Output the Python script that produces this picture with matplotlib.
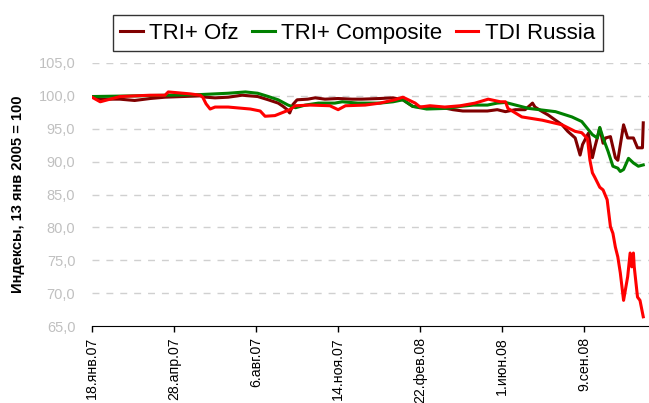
import matplotlib
matplotlib.use("Agg")
import matplotlib.pyplot as plt
import pandas as pd

plt.rcParams['font.family'] = ['Liberation Sans', 'DejaVu Sans']

# TRI+ Ofz
ofz_dates = ["2007-01-18", "2007-01-28", "2007-02-21", "2007-03-11", "2007-03-30", "2007-04-17",
             "2007-05-30", "2007-06-06", "2007-06-17", "2007-07-03", "2007-07-20", "2007-08-08",
             "2007-08-21", "2007-09-02", "2007-09-08", "2007-09-13", "2007-09-16", "2007-09-20",
             "2007-09-25", "2007-10-08", "2007-10-17", "2007-10-29", "2007-11-14", "2007-12-01",
             "2007-12-13", "2008-01-04", "2008-01-20", "2008-02-01", "2008-02-13", "2008-03-01",
             "2008-03-21", "2008-04-02", "2008-04-14", "2008-05-02", "2008-05-14", "2008-05-26",
             "2008-06-05", "2008-06-17", "2008-06-29", "2008-07-08", "2008-07-11", "2008-07-20",
             "2008-07-27", "2008-08-05", "2008-08-13", "2008-08-20", "2008-08-29", "2008-09-04",
             "2008-09-07", "2008-09-14", "2008-09-19", "2008-09-22", "2008-09-28", "2008-10-02",
             "2008-10-05", "2008-10-11", "2008-10-17", "2008-10-20", "2008-10-27", "2008-11-01",
             "2008-11-08", "2008-11-13", "2008-11-19", "2008-11-20"]
ofz = [99.9, 99.5, 99.5, 99.3, 99.6, 99.8,
       100.0, 99.8, 99.7, 99.8, 100.1, 99.9,
       99.4, 98.9, 98.4, 97.9, 97.4, 98.7,
       99.4, 99.5, 99.7, 99.5, 99.6, 99.5,
       99.5, 99.6, 99.7, 99.4, 98.4, 98.2,
       98.2, 97.9, 97.7, 97.7, 97.7, 97.9,
       97.6, 97.9, 97.9, 98.9, 98.3, 97.6,
       97.1, 96.3, 95.6, 94.6, 93.6, 91.0,
       92.6, 94.3, 90.6, 92.2, 95.1, 92.8,
       93.6, 93.8, 90.6, 90.2, 95.6, 93.6,
       93.6, 92.1, 92.1, 95.9]

# TRI+ Composite
comp_dates = ["2007-01-18", "2007-03-11", "2007-05-30", "2007-07-03", "2007-07-24", "2007-08-08",
              "2007-08-21", "2007-09-02", "2007-09-14", "2007-09-23", "2007-10-05", "2007-10-21",
              "2007-11-10", "2007-11-19", "2007-12-08", "2008-01-04", "2008-01-20", "2008-02-01",
              "2008-02-13", "2008-03-01", "2008-03-26", "2008-04-11", "2008-04-27", "2008-05-14",
              "2008-05-26", "2008-06-05", "2008-07-03", "2008-08-05", "2008-08-25", "2008-09-06",
              "2008-09-19", "2008-09-25", "2008-09-28", "2008-10-02", "2008-10-08", "2008-10-14",
              "2008-10-20", "2008-10-23", "2008-10-27", "2008-11-02", "2008-11-08", "2008-11-14",
              "2008-11-20"]
comp = [99.9, 100.0, 100.2, 100.4, 100.6, 100.4,
        99.9, 99.4, 98.6, 98.2, 98.6, 98.9,
        98.9, 99.1, 98.9, 98.9, 99.1, 99.4,
        98.4, 98.0, 98.1, 98.4, 98.6, 98.6,
        98.9, 99.0, 98.1, 97.6, 96.8, 96.1,
        94.1, 93.6, 95.2, 93.6, 91.6, 89.3,
        89.0, 88.5, 88.8, 90.5, 89.8, 89.3,
        89.5]

# TDI Russia
tdi_dates = ["2007-01-18", "2007-01-28", "2007-02-21", "2007-03-30", "2007-04-17", "2007-04-21",
             "2007-05-18", "2007-05-30", "2007-06-02", "2007-06-06", "2007-06-11", "2007-06-17",
             "2007-07-03", "2007-07-30", "2007-08-11", "2007-08-17", "2007-08-29", "2007-09-16",
             "2007-09-23", "2007-10-11", "2007-11-04", "2007-11-14", "2007-11-23", "2007-12-17",
             "2008-01-04", "2008-01-22", "2008-02-01", "2008-02-16", "2008-02-22", "2008-03-05",
             "2008-03-23", "2008-04-11", "2008-04-29", "2008-05-15", "2008-05-30", "2008-06-05",
             "2008-06-08", "2008-06-25", "2008-07-20", "2008-08-13", "2008-08-29", "2008-09-06",
             "2008-09-13", "2008-09-16", "2008-09-19", "2008-09-22", "2008-09-28", "2008-10-02",
             "2008-10-07", "2008-10-11", "2008-10-14", "2008-10-17", "2008-10-20", "2008-10-23",
             "2008-10-27", "2008-11-01", "2008-11-04", "2008-11-06", "2008-11-08", "2008-11-09",
             "2008-11-13", "2008-11-16", "2008-11-20"]
tdi = [99.8, 99.1, 99.9, 100.1, 100.1, 100.6,
       100.3, 100.1, 99.8, 98.8, 98.0, 98.3,
       98.3, 98.0, 97.7, 96.9, 97.0, 97.9,
       98.5, 98.6, 98.5, 97.9, 98.5, 98.6,
       98.9, 99.4, 99.8, 98.9, 98.3, 98.5,
       98.3, 98.5, 98.9, 99.5, 99.1, 99.1,
       98.1, 96.8, 96.3, 95.6, 94.6, 94.4,
       93.5, 90.2, 88.3, 87.6, 86.1, 85.7,
       84.2, 80.1, 79.1, 77.0, 75.5, 73.1,
       68.9, 72.5, 76.1, 74.0, 76.1, 74.0,
       69.4, 68.9, 66.4]

tick_dates = ["2007-01-18", "2007-04-28", "2007-08-06", "2007-11-14", "2008-02-22", "2008-06-01", "2008-09-09"]
tick_labels = ["18.янв.07", "28.апр.07", "6.авг.07", "14.ноя.07", "22.фев.08", "1.июн.08", "9.сен.08"]
y_ticks = [65, 70, 75, 80, 85, 90, 95, 100, 105]

fig = plt.figure(figsize=(6.49, 4.03), dpi=100)
ax = fig.add_axes([92/649, 1 - 326/403, 1 - 92/649, (326 - 63)/403])

ax.plot(pd.to_datetime(ofz_dates), ofz, color="#800000", lw=2.2, label="TRI+ Ofz")
ax.plot(pd.to_datetime(comp_dates), comp, color="#008000", lw=2.2, label="TRI+ Composite")
ax.plot(pd.to_datetime(tdi_dates), tdi, color="#ff0000", lw=2.2, label="TDI Russia")

ax.set_ylim(65, 105)
ax.set_xlim(pd.Timestamp("2007-01-18"), pd.Timestamp("2008-11-27"))
ax.set_yticks(y_ticks)
ax.set_yticklabels([f"{v:.1f}".replace(".", ",") for v in y_ticks], color="#c0c0c0", fontsize=10.5)
ax.tick_params(axis="y", length=0, pad=12)
ax.set_xticks(pd.to_datetime(tick_dates))
ax.set_xticklabels(tick_labels, rotation=90, fontsize=10.2, va="top")
ax.tick_params(axis="x", length=4, width=1, pad=4, direction="out")

for v in y_ticks[1:]:
    ax.axhline(v, color="#d0d0d0", lw=1, ls=(0, (5, 5)), zorder=0)

for s in ["top", "right", "left"]:
    ax.spines[s].set_visible(False)
ax.spines["bottom"].set_color("black")

ax.set_ylabel("Индексы, 13 янв 2005 = 100", fontsize=10.5, fontweight="bold")
ax.yaxis.set_label_coords(-0.12, 0.5)

leg = fig.legend(loc="center", bbox_to_anchor=(0.551, 0.918), ncol=3, fontsize=16,
                 handlelength=1.0, handletextpad=0.3, columnspacing=0.6,
                 frameon=True, fancybox=False, borderpad=0.35, borderaxespad=0)
leg.get_frame().set_edgecolor("black")
leg.get_frame().set_linewidth(1)

fig.savefig("out.png", dpi=100)
